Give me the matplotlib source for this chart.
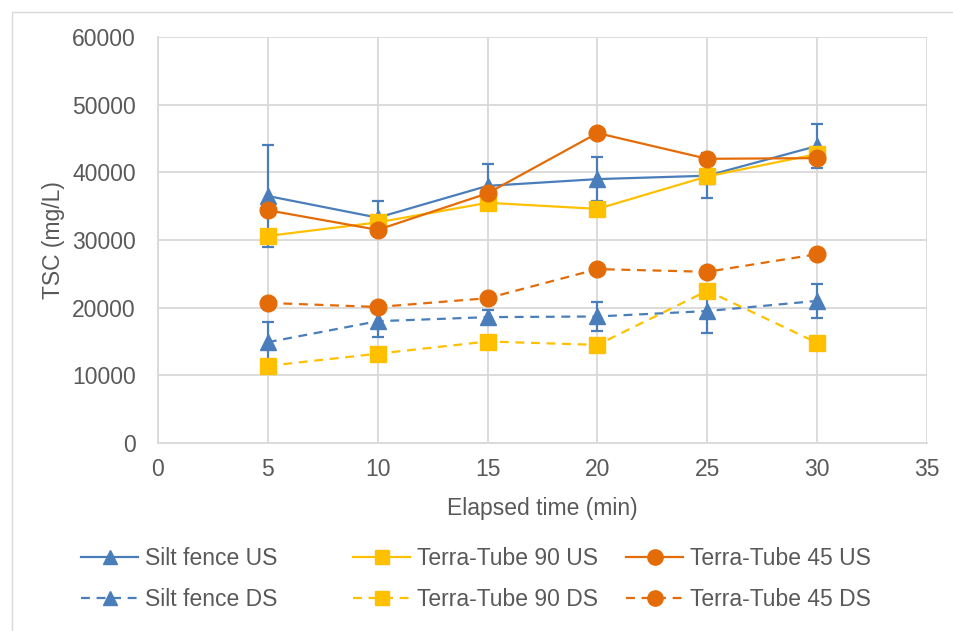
import matplotlib
matplotlib.use("Agg")
import matplotlib.pyplot as plt
from matplotlib.patches import Rectangle
from matplotlib.lines import Line2D

plt.rcParams['font.family'] = ['Liberation Sans', 'DejaVu Sans']

time = [5, 10, 15, 20, 25, 30]

silt_us = [36500, 33300, 38000, 39000, 39500, 43900]
silt_us_err = [7600, 2500, 3200, 3300, 3300, 3200]
tt90_us = [30600, 32600, 35500, 34600, 39400, 42700]
tt45_us = [34400, 31500, 36900, 45800, 42000, 42100]

silt_ds = [14900, 18000, 18600, 18700, 19500, 21000]
silt_ds_err = [3000, 2400, 1000, 2100, 3200, 2500]
tt90_ds = [11400, 13200, 15000, 14500, 22500, 14800]
tt45_ds = [20700, 20100, 21400, 25700, 25300, 27900]

blue = '#4a7ebb'
yellow = '#ffc000'
orange = '#e36c09'
txt = '#595959'
FS = 16.5

fig = plt.figure(figsize=(9.54, 6.31), dpi=100)
ax = fig.add_axes([158/954, 1-443/631, (927-158)/954, (443-37)/631])

fig.patches.append(Rectangle((12/954, -0.1), 2, 1-12/631+0.1, transform=fig.transFigure,
                             fill=False, edgecolor='#d9d9d9', lw=1))

lw = 1.6
dash = (0, (4, 3))
ax.errorbar(time, silt_us, yerr=silt_us_err, color=blue, marker='^', ms=11, lw=lw,
            capsize=4.5, elinewidth=1.6, capthick=1.6, zorder=3)
ax.plot(time, tt90_us, color=yellow, marker='s', ms=11, lw=lw, zorder=4)
ax.plot(time, tt45_us, color=orange, marker='o', ms=12, lw=lw, zorder=5)
ax.errorbar(time, silt_ds, yerr=silt_ds_err, color=blue, marker='^', ms=11, lw=lw, ls=dash,
            capsize=4.5, elinewidth=1.6, capthick=1.6, zorder=3)
ax.plot(time, tt90_ds, color=yellow, marker='s', ms=11, lw=lw, ls=dash, zorder=4)
ax.plot(time, tt45_ds, color=orange, marker='o', ms=12, lw=lw, ls=dash, zorder=5)

ax.set_xlim(0, 35)
ax.set_ylim(0, 60000)
ax.set_xticks(range(0, 36, 5))
ax.set_yticks(range(0, 60001, 10000))
ax.grid(True, color='#d9d9d9', lw=1.3)
ax.set_axisbelow(True)
for s in ['top', 'right']:
    ax.spines[s].set_visible(False)
for s in ['left', 'bottom']:
    ax.spines[s].set_color('#d9d9d9')
    ax.spines[s].set_linewidth(1.3)
ax.tick_params(length=0, labelsize=FS, labelcolor=txt)
ax.tick_params(axis='x', pad=11)
ax.tick_params(axis='y', pad=16)
ax.set_xlabel('Elapsed time (min)', fontsize=FS, color=txt, va='center')
ax.set_ylabel('TSC (mg/L)', fontsize=FS, color=txt, va='center')
ax.xaxis.set_label_coords(0.5, -(508-443)/406)
ax.yaxis.set_label_coords(-(158-54)/769, 0.5)

def proxy(c, m, ls, ms):
    return Line2D([], [], color=c, marker=m, ls=ls, lw=lw, ms=ms)

cols = [((proxy(blue, '^', '-', 10), proxy(blue, '^', dash, 10)),
         ('Silt fence US', 'Silt fence DS'), 81),
        ((proxy(yellow, 's', '-', 10), proxy(yellow, 's', dash, 10)),
         ('Terra-Tube 90 US', 'Terra-Tube 90 DS'), 353),
        ((proxy(orange, 'o', '-', 11), proxy(orange, 'o', dash, 11)),
         ('Terra-Tube 45 US', 'Terra-Tube 45 DS'), 626)]
for hs, ls_, x0 in cols:
    fig.legend(hs, ls_, loc='center left', bbox_to_anchor=(x0/954, 1-579/631),
               frameon=False, fontsize=FS, labelcolor=txt, handlelength=2.5,
               handletextpad=0.3, labelspacing=0.75, borderpad=0, borderaxespad=0)

fig.savefig('out.png', dpi=100)
